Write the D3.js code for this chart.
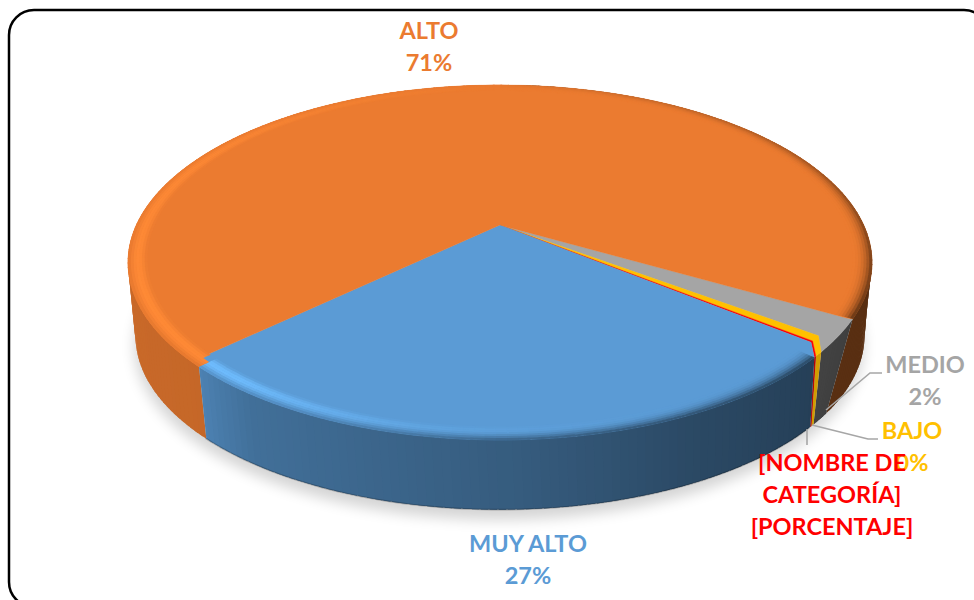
<!DOCTYPE html>
<html><head><meta charset="utf-8">
<script src="https://cdn.jsdelivr.net/npm/d3@7/dist/d3.min.js"></script>
<style>html,body{margin:0;padding:0;background:#fff;overflow:hidden}svg{display:block}text{font-family:Lato,"Open Sans",sans-serif;font-weight:700;font-size:23.5px;text-anchor:middle}</style>
</head><body><svg id="c" width="974" height="600"></svg>
<script>
const categories = ["MEDIO","BAJO","[NOMBRE DE CATEGORÍA]","MUY ALTO","ALTO"];
const values = [1.88,0.5,0.13,27.09,70.4];
const colors = ["#a5a5a5","#ffc000","#ff0000","#5b9bd5","#eb7b30"];
const labelLines = [["MEDIO","2%"],["BAJO","0%"],["[NOMBRE DE","CATEGORÍA]","[PORCENTAJE]"],["MUY ALTO","27%"],["ALTO","71%"]];
const labelPos = [[925,373],[912,439],[832,471],[528,552],[429,39]];
const leaders = [[[826,410],[870,373],[882,373]],[[812,425],[868,439],[878,439]],[[807,429],[807,445]]];
// where the rim of each slice really starts and ends (bevelled corners), radians
const wallTop = [2.09,2.274,2.298,2.305,3.922,2.09+2*Math.PI];
const wallBot = [2.215,2.28,2.29,2.295,3.917,2.215+2*Math.PI];

const svg = d3.select("#c");
const defs = svg.append("defs");
defs.append("filter").attr("id","blur").attr("x","-20%").attr("y","-20%").attr("width","140%").attr("height","140%")
  .append("feGaussianBlur").attr("stdDeviation",7);

svg.append("rect").attr("x",9).attr("y",10).attr("width",980).attr("height",597).attr("rx",25)
  .attr("fill","#fff").attr("stroke","#000").attr("stroke-width",2.5);

const k = 0.211, X = 363.6, A = 169.6, y0 = 225, drop = 74, shrink = 0.02;
const sx = d3.scaleLinear().domain([-1,1]).range([500-X,500+X]);
function proj(angle, r, h){
  const x = r*Math.sin(angle), z = -r*Math.cos(angle);
  const s = 1/(1-k*z), fh = 1-shrink*h;
  return [500 + (sx(x)-500)*s*fh, y0 + h*drop + A*z*s*fh];
}
const pie = d3.pie().sort(null).value(d=>d).startAngle(2.093).endAngle(2.093+2*Math.PI);
const arcs = pie(values);
const line = d3.line();
const TAU = 2*Math.PI;
const shade = (c,b)=>{const o=d3.rgb(c);return d3.rgb(o.r*b,o.g*b,o.b*b).clamp().formatHex();};

const wallB = d3.scaleLinear().domain([1.2,2.1,2.32,2.7,3.14,3.74,3.92,5.2]).range([.38,.38,.41,.47,.6,.72,.84,.88]).clamp(true);
const darkAt = d3.scaleLinear().domain([0,1.2,2.1,3.14,3.6,4.0,5.0,6.29]).range([.05,.55,1,.95,.4,.1,0,.05]);
const glowAt = d3.scaleLinear().domain([2.6,3.3,3.8,4.3,5.2,5.8,6.29]).range([0,.4,1,1,.8,.35,0]).clamp(true);
const wallColor = (i,m)=>shade(colors[i], i==1?Math.max(.82,wallB(m)):i==2?Math.max(.7,wallB(m)):wallB(m));

// shadow
const shadowPts = d3.range(0,TAU,0.05).map(a=>{const p=proj(a,1,1);return [p[0]-1,p[1]+10];});
svg.append("path").attr("d",line(shadowPts)+"Z").attr("fill","#000").attr("opacity",0.17).attr("filter","url(#blur)");

// walls
const segs=[];
arcs.forEach((a,i)=>{
  const t0=wallTop[i],t1=wallTop[i+1],b0=wallBot[i],b1=wallBot[i+1];
  const n=Math.max(2,Math.ceil((t1-t0)/0.02));
  d3.range(n).forEach(j=>{
    const u0=j/n,u1=(j+1)/n,m=((t0+(t1-t0)*(u0+u1)/2)%TAU+TAU)%TAU;
    const ua=Math.max(0,u0-.4/n), ub=Math.min(1,u1+.4/n);
    segs.push({i,m,ua,ub,t0,t1,b0,b1});
  });
});
segs.sort((p,q)=>Math.abs(q.m-Math.PI)-Math.abs(p.m-Math.PI));
const lerp=d3.interpolateNumber;
svg.append("g").selectAll("path").data(segs).join("path")
  .attr("d",q=>line([proj(lerp(q.t0,q.t1)(q.ua),1,0),proj(lerp(q.t0,q.t1)(q.ub),1,0),
                     proj(lerp(q.b0,q.b1)(q.ub),1,1),proj(lerp(q.b0,q.b1)(q.ua),1,1)])+"Z")
  .attr("fill",q=>wallColor(q.i,q.m));

// bottom edge darkening
const edgePts=d3.range(2.3,3.93,0.02).map(a=>proj(a,1,1));
svg.append("path").attr("d",line(edgePts)).attr("fill","none").attr("stroke","#000").attr("stroke-opacity",.22).attr("stroke-width",1.6);

// top faces, with chamfered corners where the radial edges meet the rim
const inset=[[.985,.96],[.96,.96],[.96,.96],[.96,.965],[.965,.985]];
svg.append("g").selectAll("path").data(arcs).join("path")
  .attr("d",(a,i)=>{
    const t0=wallTop[i],t1=wallTop[i+1],n=Math.max(2,Math.ceil((t1-t0)/0.012));
    const pts=[proj(0,0,0),proj(a.startAngle,inset[i][0],0)];
    d3.range(n+1).forEach(j=>pts.push(proj(t0+(t1-t0)*j/n,1,0)));
    pts.push(proj(a.endAngle,inset[i][1],0));
    return line(pts)+"Z";})
  .attr("fill",(a,i)=>colors[i]).attr("stroke",(a,i)=>colors[i]).attr("stroke-width",0.3);

// bevel rings along the rim
const ringN=7, rIn=.95;
const ring=s=>rIn+(1-rIn)*s/ringN;
const rim=[];
[3,4].forEach(i=>{
  const t0=wallTop[i],t1=wallTop[i+1],n=Math.ceil((t1-t0)/0.025);
  d3.range(n).forEach(j=>d3.range(ringN).forEach(s=>{
    const a=t0+(t1-t0)*j/n,b=t0+(t1-t0)*(j+1)/n+(j<n-1?0.006:0),m=(((a+b)/2)%TAU+TAU)%TAU;
    // the inner rings of ALTO must start past the radial edge it shares with MUY ALTO
    if(i==4 && ring(s)<.97 && b<arcs[4].startAngle+0.012) return;
    rim.push({i,a,b,m,s});
  }));
});
function rimColor(d){
  const u=(d.s+.5)/ringN, base=colors[d.i];
  const glow=glowAt(d.m)*Math.pow(Math.sin(Math.PI*Math.min(1,u*1.05)),1.2);
  let c=d3.interpolateRgb(base,shade(base,d.i==3?1.22:1.12))(glow);
  return d3.interpolateRgb(c,wallColor(d.i,d.m))(darkAt(d.m)*Math.pow(u,2.4));
}
svg.append("g").selectAll("path").data(rim).join("path")
  .attr("d",d=>line([proj(d.a,ring(d.s),0),proj(d.b,ring(d.s),0),proj(d.b,ring(d.s+1)+.001,0),proj(d.a,ring(d.s+1)+.001,0)])+"Z")
  .attr("fill",rimColor);

// leaders
svg.append("g").selectAll("path").data(leaders).join("path")
  .attr("d",line).attr("fill","none").attr("stroke","#a6a6a6").attr("stroke-width",1.6);

// labels
[4,3,0,1,2].forEach(i=>{
  labelLines[i].forEach((t,j)=>{
    svg.append("text").attr("x",labelPos[i][0]).attr("y",labelPos[i][1]+j*32).attr("fill",colors[i]).text(t);
  });
});
</script></body></html>
